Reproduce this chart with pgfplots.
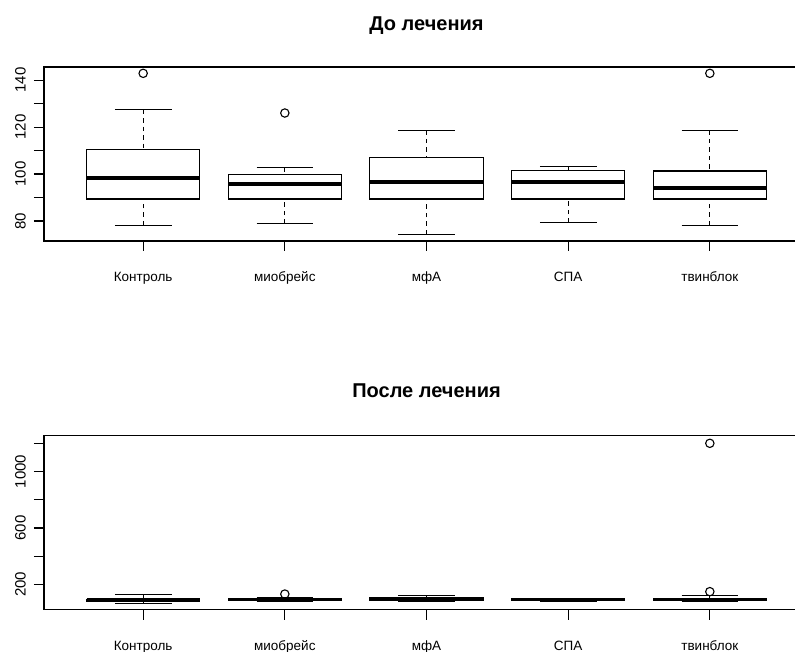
\documentclass[border=0pt]{standalone}
\usepackage{pgfplots}
\pgfplotsset{compat=1.18}
\usepgfplotslibrary{statistics}
\usepackage{fontspec}
\setmainfont{Liberation Sans}

\pgfplotsset{
  rbox/.style={
    black, line width=1bp, solid,
    mark=o, mark size=4.2bp, mark options={solid, line width=1.1bp, black},
    boxplot/draw direction=y,
    boxplot/box extend=0.8,
    boxplot/draw/box/.code={%
      \draw[line width=1.1bp, solid] (boxplot box cs:\pgfplotsboxplotvalue{lower quartile},0) rectangle (boxplot box cs:\pgfplotsboxplotvalue{upper quartile},1);},
    boxplot/draw/median/.code={%
      \draw[line width=3.8bp, solid] (boxplot box cs:\pgfplotsboxplotvalue{median},0) -- (boxplot box cs:\pgfplotsboxplotvalue{median},1);},
    boxplot/draw/lower whisker/.code={%
      \draw[line width=1.1bp, dash pattern=on 4.5bp off 4bp] (boxplot box cs:\pgfplotsboxplotvalue{lower whisker},0.5) -- (boxplot box cs:\pgfplotsboxplotvalue{lower quartile},0.5);
      \draw[line width=1.1bp, solid] (boxplot box cs:\pgfplotsboxplotvalue{lower whisker},0.25) -- (boxplot box cs:\pgfplotsboxplotvalue{lower whisker},0.75);},
    boxplot/draw/upper whisker/.code={%
      \draw[line width=1.1bp, dash pattern=on 4.5bp off 4bp] (boxplot box cs:\pgfplotsboxplotvalue{upper whisker},0.5) -- (boxplot box cs:\pgfplotsboxplotvalue{upper quartile},0.5);
      \draw[line width=1.1bp, solid] (boxplot box cs:\pgfplotsboxplotvalue{upper whisker},0.25) -- (boxplot box cs:\pgfplotsboxplotvalue{upper whisker},0.75);},
  },
  rax/.style={
    scale only axis, width=765bp, height=174bp,
    anchor=south west,
    xmin=0.3, xmax=5.7,
    axis line style={line width=1.2bp},
    xtick pos=left, ytick pos=left,
    xtick style={line width=1.2bp, black},
    ytick style={line width=1.2bp, black},
    major tick length=10bp,
    xtick align=outside, ytick align=outside,
    xtick={1,2,3,4,5},
    xticklabels={Контроль, миобрейс, мфА, СПА, твинблок},
    /pgf/number format/assume math mode=true,
    xticklabel style={font=\fontsize{13.5bp}{15bp}\selectfont, anchor=base, inner sep=0pt},
    yticklabel style={font=\fontsize{15bp}{17bp}\selectfont, rotate=90, anchor=south, inner sep=0pt},
    xticklabel shift=30.5bp,
    yticklabel shift=8bp,
    every axis title shift=0pt,
    title style={font=\bfseries\fontsize{20bp}{22bp}\selectfont, at={(0.5,1)}, anchor=base},
    clip=true,
  },
}

\begin{document}
\begin{tikzpicture}
\clip (0,0) rectangle (795bp,652bp);
\begin{axis}[rax, at={(44bp,411bp)},
  ymin=71.5, ymax=145.6,
  ytick={80,90,100,110,120,130,140},
  yticklabels={80,,100,,120,,140},
  title={До лечения}, title style={yshift=36bp}]
\addplot[rbox, boxplot prepared={draw position=1, lower whisker=78.2, lower quartile=89.4, median=98.3, upper quartile=110.6, upper whisker=127.4}]
  table[row sep=\\, y index=0] {data\\ 142.9\\};
\addplot[rbox, boxplot prepared={draw position=2, lower whisker=78.9, lower quartile=89.4, median=95.7, upper quartile=100.0, upper whisker=102.7}]
  table[row sep=\\, y index=0] {data\\ 126.0\\};
\addplot[rbox, boxplot prepared={draw position=3, lower whisker=74.3, lower quartile=89.4, median=96.5, upper quartile=106.9, upper whisker=118.6}]
  coordinates {};
\addplot[rbox, boxplot prepared={draw position=4, lower whisker=79.3, lower quartile=89.4, median=96.5, upper quartile=101.7, upper whisker=103.3}]
  coordinates {};
\addplot[rbox, boxplot prepared={draw position=5, lower whisker=78.2, lower quartile=89.4, median=94.0, upper quartile=101.3, upper whisker=118.6}]
  table[row sep=\\, y index=0] {data\\ 142.9\\};
\end{axis}

\begin{axis}[rax, at={(44bp,42.3bp)},
  ymin=20, ymax=1254,
  ytick={200,400,600,800,1000,1200},
  yticklabels={200,,600,,1000,},
  title={После лечения}, title style={yshift=37.7bp}]
\addplot[rbox, boxplot prepared={draw position=1, lower whisker=66, lower quartile=80, median=88, upper quartile=94, upper whisker=129}]
  coordinates {};
\addplot[rbox, boxplot prepared={draw position=2, lower whisker=78, lower quartile=86, median=92, upper quartile=98, upper whisker=104}]
  table[row sep=\\, y index=0] {data\\ 131\\};
\addplot[rbox, boxplot prepared={draw position=3, lower whisker=76, lower quartile=88, median=95, upper quartile=104, upper whisker=118}]
  coordinates {};
\addplot[rbox, boxplot prepared={draw position=4, lower whisker=78, lower quartile=87, median=92, upper quartile=98, upper whisker=102}]
  coordinates {};
\addplot[rbox, boxplot prepared={draw position=5, lower whisker=77, lower quartile=87, median=93, upper quartile=102, upper whisker=118}]
  table[row sep=\\, y index=0] {data\\ 148\\ 1200\\};
\end{axis}
\end{tikzpicture}
\end{document}
